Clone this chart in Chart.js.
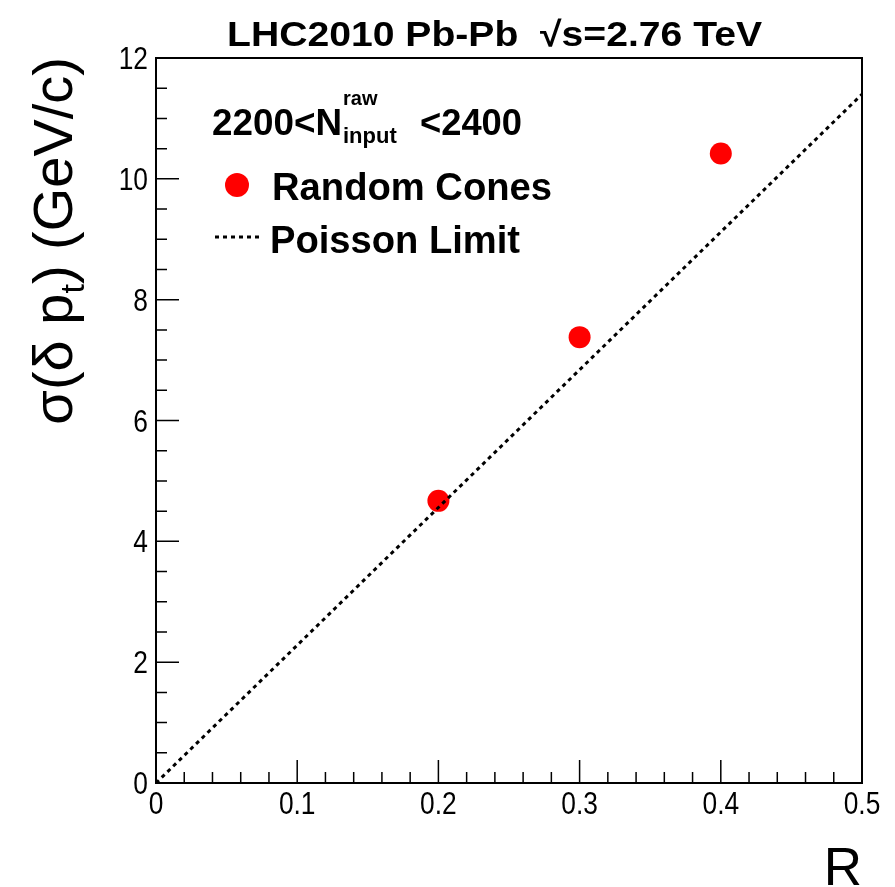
<!DOCTYPE html>
<html>
<head>
<meta charset="utf-8">
<script src="https://cdn.jsdelivr.net/npm/chart.js@4/dist/chart.umd.min.js"></script>
<style>
  body { margin: 0; background: #fff; }
  canvas { display: block; }
</style>
</head>
<body>
<canvas id="sigmaChart" width="895" height="887"></canvas>
<script>
// Datos
const rValues = [0.2, 0.3, 0.4];
const sigmaRandomCones = [4.67, 7.38, 10.42];
const poissonR = [0, 0.5];
const poissonSigma = [0, 11.4];
const xTickValues = [0, 0.1, 0.2, 0.3, 0.4, 0.5];
const xTickLabels = ["0", "0.1", "0.2", "0.3", "0.4", "0.5"];
const yTickValues = [0, 2, 4, 6, 8, 10, 12];
const yTickLabels = ["0", "2", "4", "6", "8", "10", "12"];

const FONT = "'Liberation Sans', Arial, Helvetica, sans-serif";

// Texto con compresión horizontal opcional
function drawText(ctx, text, x, y, size, opts) {
  opts = opts || {};
  ctx.save();
  ctx.font = (opts.bold ? "bold " : "") + size + "px " + FONT;
  ctx.fillStyle = "#000";
  ctx.textAlign = opts.align || "left";
  ctx.textBaseline = opts.baseline || "alphabetic";
  ctx.translate(x, y);
  if (opts.rotate) ctx.rotate(opts.rotate);
  ctx.scale(opts.sx || 1, 1);
  ctx.fillText(text, 0, 0);
  ctx.restore();
}

function textWidth(ctx, text, size, bold) {
  ctx.save();
  ctx.font = (bold ? "bold " : "") + size + "px " + FONT;
  const w = ctx.measureText(text).width;
  ctx.restore();
  return w;
}

// Marco, ticks hacia dentro, etiquetas y leyenda al estilo ROOT
const rootFrame = {
  id: "rootFrame",
  afterDraw(chart) {
    const ctx = chart.ctx;
    const a = chart.chartArea;
    const xs = chart.scales.x;
    const ys = chart.scales.y;

    ctx.save();
    ctx.strokeStyle = "#000";
    ctx.lineWidth = 2;
    ctx.strokeRect(a.left, a.top, a.right - a.left, a.bottom - a.top);

    // ticks eje x (menores cada 0.02)
    ctx.lineWidth = 1.5;
    ctx.beginPath();
    for (let i = 0; i <= 25; i++) {
      const px = xs.getPixelForValue(i * 0.02);
      const len = i % 5 === 0 ? 23 : 11;
      ctx.moveTo(px, a.bottom);
      ctx.lineTo(px, a.bottom - len);
    }
    // ticks eje y (menores cada 0.5)
    for (let i = 0; i <= 24; i++) {
      const py = ys.getPixelForValue(i * 0.5);
      const len = i % 4 === 0 ? 23 : 11;
      ctx.moveTo(a.left, py);
      ctx.lineTo(a.left + len, py);
    }
    ctx.stroke();
    ctx.restore();

    // etiquetas de los ejes
    xTickValues.forEach((v, i) => {
      drawText(ctx, xTickLabels[i], xs.getPixelForValue(v), a.bottom + 31, 31, { align: "center", sx: 0.85 });
    });
    yTickValues.forEach((v, i) => {
      drawText(ctx, yTickLabels[i], a.left - 8, ys.getPixelForValue(v) + 11, 31, { align: "right", sx: 0.85 });
    });

    // título eje x
    drawText(ctx, "R", 862, 885, 53, { align: "right" });

    // título eje y (rotado, alineado arriba)
    const ySize = 56, ySx = 1.0;
    const partA = "σ(δ p";
    const partB = ") (GeV/c)";
    const wA = textWidth(ctx, partA, ySize) * ySx;
    const wT = textWidth(ctx, "t", 34) * ySx;
    const wB = textWidth(ctx, partB, ySize) * ySx;
    const total = wA + wT + wB;
    const yTop = 57, baseX = 72;
    let pos = yTop + total;
    drawText(ctx, partA, baseX, pos, ySize, { rotate: -Math.PI / 2, sx: ySx });
    pos -= wA;
    drawText(ctx, "t", baseX + 12, pos, 34, { rotate: -Math.PI / 2, sx: ySx });
    pos -= wT;
    drawText(ctx, partB, baseX, pos, ySize, { rotate: -Math.PI / 2, sx: ySx });

    // título superior
    const title = "LHC2010 Pb-Pb  √s=2.76 TeV";
    const tw = textWidth(ctx, title, 35, true);
    drawText(ctx, title, 227, 46, 35, { bold: true, sx: 535 / tw });

    // leyenda
    drawText(ctx, "2200<N", 212, 135, 36, { bold: true, sx: 130 / textWidth(ctx, "2200<N", 36, true) });
    drawText(ctx, "raw", 343, 105, 20, { bold: true });
    drawText(ctx, "input", 343, 143, 22, { bold: true });
    drawText(ctx, "<2400", 420, 135, 36, { bold: true, sx: 102 / textWidth(ctx, "<2400", 36, true) });

    ctx.save();
    ctx.fillStyle = "#ff0000";
    ctx.beginPath();
    ctx.arc(237, 185, 12, 0, Math.PI * 2);
    ctx.fill();
    ctx.strokeStyle = "#000";
    ctx.lineWidth = 3;
    ctx.setLineDash([4, 4]);
    ctx.beginPath();
    ctx.moveTo(215, 237);
    ctx.lineTo(259, 237);
    ctx.stroke();
    ctx.restore();

    drawText(ctx, "Random Cones", 272, 200, 38, { bold: true, sx: 280 / textWidth(ctx, "Random Cones", 38, true) });
    drawText(ctx, "Poisson Limit", 270, 253, 38, { bold: true, sx: 250 / textWidth(ctx, "Poisson Limit", 38, true) });
  }
};

const ctx = document.getElementById("sigmaChart").getContext("2d");

new Chart(ctx, {
  type: "scatter",
  data: {
    datasets: [
      {
        label: "Poisson Limit",
        data: poissonR.map((r, i) => ({ x: r, y: poissonSigma[i] })),
        showLine: true,
        borderColor: "#000",
        borderWidth: 3,
        borderDash: [4, 4],
        pointRadius: 0,
        fill: false,
      },
      {
        label: "Random Cones",
        data: rValues.map((r, i) => ({ x: r, y: sigmaRandomCones[i] })),
        backgroundColor: "#ff0000",
        borderColor: "#ff0000",
        pointRadius: 11,
        pointBorderWidth: 0,
      },
    ],
  },
  options: {
    responsive: false,
    animation: false,
    layout: { padding: { top: 58, right: 33, left: 0, bottom: 0 } },
    plugins: {
      legend: { display: false },
      tooltip: { enabled: false },
      title: { display: false },
    },
    scales: {
      x: {
        type: "linear",
        min: 0,
        max: 0.5,
        grid: { display: false },
        border: { display: false },
        ticks: { display: false },
        afterFit(scale) { scale.height = 104; },
      },
      y: {
        type: "linear",
        min: 0,
        max: 12,
        grid: { display: false },
        border: { display: false },
        ticks: { display: false },
        afterFit(scale) { scale.width = 156; },
      },
    },
  },
  plugins: [rootFrame],
});
</script>
</body>
</html>
